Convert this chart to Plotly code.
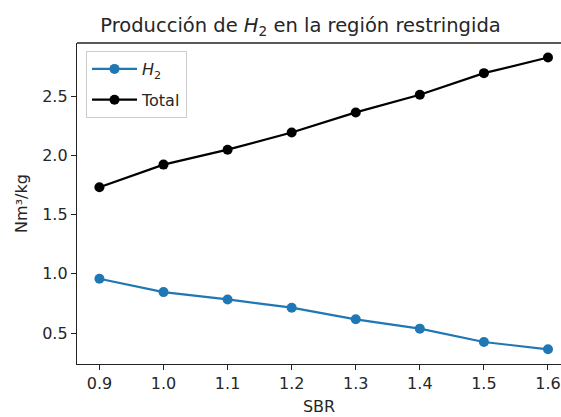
import plotly.graph_objects as go

sbr = [0.9, 1.0, 1.1, 1.2, 1.3, 1.4, 1.5, 1.6]
h2 = [0.959, 0.846, 0.784, 0.714, 0.616, 0.537, 0.424, 0.362]
total = [1.732, 1.924, 2.05, 2.195, 2.365, 2.514, 2.697, 2.829]
x_ticks = [0.9, 1.0, 1.1, 1.2, 1.3, 1.4, 1.5, 1.6]
y_ticks = [0.5, 1.0, 1.5, 2.0, 2.5]

W, H = 561, 417
L, R, T, B = 77, 0, 43, 53
FONT = "DejaVu Sans"

fig = go.Figure()
fig.add_trace(go.Scatter(x=sbr, y=h2, mode="lines+markers", name="<i>H</i><sub>2</sub>",
                         legendgroup="a",
                         line=dict(color="#1f77b4", width=2.2),
                         marker=dict(color="#1f77b4", size=10)))
fig.add_trace(go.Scatter(x=sbr, y=total, mode="lines+markers", name="Total",
                         legendgroup="b",
                         line=dict(color="#000000", width=2.2),
                         marker=dict(color="#000000", size=10)))

fig.update_layout(
    width=W, height=H,
    margin=dict(l=L, r=R, t=T, b=B, pad=0),
    paper_bgcolor="white", plot_bgcolor="white",
    font=dict(family=FONT, size=16, color="#262626"),
    title=dict(text="Producción de <i>H</i><sub>2</sub> en la región restringida",
               x=300.5 / W, xanchor="center", xref="container",
               y=1 - 25 / H, yanchor="middle", yref="container",
               font=dict(family=FONT, size=19.5, color="#262626")),
    showlegend=True,
    legend=dict(x=(86 - L) / (W - L - R), y=1 - (51 - T) / (H - T - B),
                xanchor="left", yanchor="top",
                bgcolor="rgba(255,255,255,0.8)", bordercolor="#cccccc", borderwidth=1,
                font=dict(family=FONT, size=16, color="#262626"),
                traceorder="grouped", tracegroupgap=7, itemwidth=45),
    xaxis=dict(range=[0.865, 1.6203], tickvals=x_ticks, ticktext=[f"{v:.1f}" for v in x_ticks],
               showgrid=False, zeroline=False, showline=True, linecolor="#222222", linewidth=1.3,
               mirror=False, ticks="outside", ticklen=5, tickcolor="#222222", tickwidth=1.2,
               title=dict(text="SBR", font=dict(family=FONT, size=16, color="#262626"), standoff=8),
               tickfont=dict(family=FONT, size=16, color="#262626")),
    yaxis=dict(range=[0.238, 2.952], tickvals=y_ticks, ticktext=[f"{v:.1f}" for v in y_ticks],
               showgrid=False, zeroline=False, showline=True, linecolor="#222222", linewidth=1.3,
               mirror=False, ticks="outside", ticklen=5, tickcolor="#222222", tickwidth=1.2,
               title=dict(text="Nm³/kg", font=dict(family=FONT, size=16, color="#262626"), standoff=10),
               tickfont=dict(family=FONT, size=16, color="#262626")),
)
# top spine
fig.add_shape(type="line", xref="paper", yref="paper", x0=0, x1=1, y0=1, y1=1,
              line=dict(color="#222222", width=1.3))

fig.write_html("out.html")
